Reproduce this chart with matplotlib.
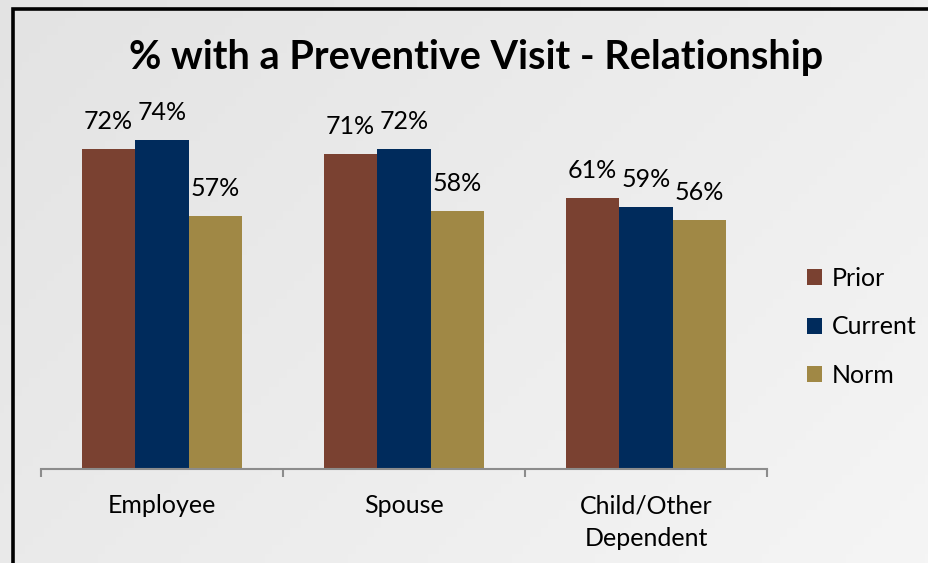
import numpy as np
import matplotlib
matplotlib.use("Agg")
import matplotlib.pyplot as plt
from matplotlib.patches import Rectangle, Patch

categories = ["Employee", "Spouse", "Child/Other\nDependent"]
series_names = ["Prior", "Current", "Norm"]
prior = [72, 71, 61]
current = [74, 72, 59]
norm = [57, 58, 56]
colors = ["#7A4131", "#002B5C", "#A08845"]
title = "% with a Preventive Visit - Relationship"

W, H = 929, 563
fig = plt.figure(figsize=(W / 100, H / 100), dpi=100)

# background gradient
bg = fig.add_axes([0, 0, 1, 1], zorder=-10)
gx = np.linspace(0, 1, 256)
gy = np.linspace(0, 1, 64)
G = 0.62 * gx[None, :] + 0.38 * gy[:, None]
lo, hi = 0xE3 / 255, 0xF5 / 255
img = lo + (hi - lo) * G
bg.imshow(np.dstack([img, img, img]), extent=[0, 1, 0, 1], aspect="auto", origin="upper")
bg.set_xlim(0, 1); bg.set_ylim(0, 1)
bg.axis("off")

# frame
fig.patches.append(Rectangle((13 / W, -0.1), 1.2, 1 - 9 / H + 0.1, transform=fig.transFigure,
                             fill=False, edgecolor="black", linewidth=2.6, zorder=5))

# main axes
left, right, base = 41, 767, 469
ppu = 4.44
ymax = 80
top = base - ymax * ppu
ax = fig.add_axes([left / W, (H - base) / H, (right - left) / W, (base - top) / H])
ax.patch.set_alpha(0)
ax.set_xlim(-0.5, 2.5)
ax.set_ylim(0, ymax)

bw = 53.5 / 242
x = np.arange(len(categories))
font = "Lato"
fs = 18
for k, (vals, col) in enumerate(zip([prior, current, norm], colors)):
    bars = ax.bar(x + (k - 1) * bw, vals, width=bw, color=col, edgecolor="none")
    for b, v in zip(bars, vals):
        ax.annotate(f"{v}%", (b.get_x() + b.get_width() / 2, v), xytext=(0, 14.5),
                    textcoords="offset points", ha="center", va="baseline",
                    fontsize=fs, family=font, color="black")

for s in ["top", "right", "left"]:
    ax.spines[s].set_visible(False)
ax.spines["bottom"].set_color("#8C8C8C")
ax.spines["bottom"].set_linewidth(1.5)
ax.set_yticks([])
ax.set_xticks(x)
ax.set_xticklabels(categories, fontsize=fs, family=font, linespacing=1.55)
ax.tick_params(axis="x", which="major", length=0, pad=18)
ax.set_xticks([-0.5, 0.5, 1.5, 2.5], minor=True)
ax.tick_params(axis="x", which="minor", length=6, width=1.5, color="#8C8C8C", direction="out")

handles = [Patch(facecolor=c, edgecolor="none") for c in colors]
fig.legend(handles, series_names, loc="center left", bbox_to_anchor=(807 / W, (H - 327) / H),
           frameon=False, prop={"family": font, "size": fs}, handlelength=0.6, handleheight=0.6,
           handletextpad=0.4, labelspacing=1.02, borderpad=0, borderaxespad=0)

fig.text(476 / W, (H - 57) / H, title, ha="center", va="center", fontsize=28.5,
         fontweight="bold", family=font)

fig.savefig("out.png", dpi=100)
